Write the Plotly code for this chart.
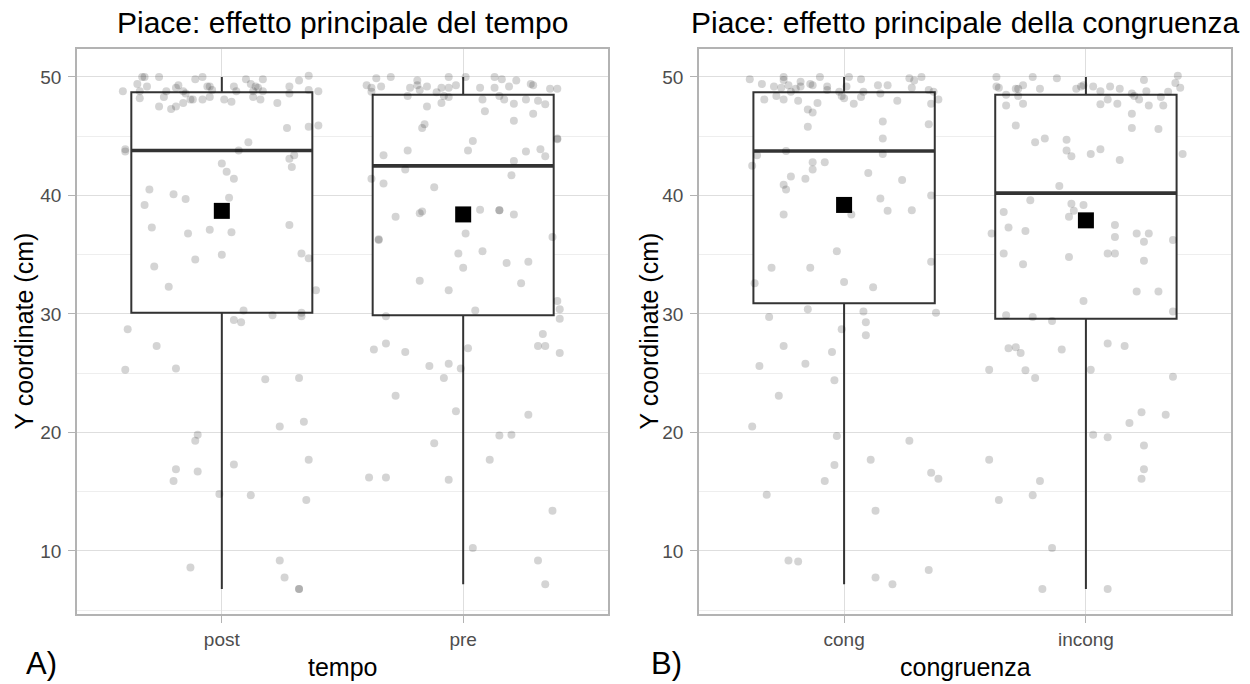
import plotly.graph_objects as go
from plotly.subplots import make_subplots

# ---- Panel A: tempo ----
tempo_levels = ["post", "pre"]
tempo_q1 = [30.1, 29.9]
tempo_median = [43.8, 42.5]
tempo_q3 = [48.7, 48.5]
tempo_min = [6.8, 7.2]
tempo_max = [50.0, 50.0]
tempo_mean = [38.7, 38.4]

post_y = [50.0, 50.0, 50.0, 49.8, 50.0, 49.8, 49.8, 50.1, 49.7, 49.4, 49.2, 49.1, 49.4, 49.2, 49.3, 49.2,
          49.2, 49.2, 49.2, 48.8, 48.8, 48.8, 49.1, 48.8, 48.6, 48.9, 48.8, 48.8, 48.8, 48.6, 48.9, 48.8,
          48.2, 48.3, 48.1, 48.1, 48.1, 48.3, 48.1, 47.9, 48.3, 48.1, 47.8, 47.5, 47.3, 47.5, 47.8, 45.7,
          45.8, 45.9, 44.5, 43.8, 43.7, 43.9, 43.1, 43.4, 42.4, 42.7, 42.0, 41.4, 40.5, 40.1, 39.7, 39.8,
          39.2, 37.3, 36.8, 37.1, 36.9, 37.5, 35.0, 35.1, 34.7, 34.6, 34.0, 32.3, 32.0, 30.3, 29.9, 30.1,
          29.8, 29.5, 29.3, 28.7, 27.3, 25.3, 25.4, 24.5, 24.6, 20.5, 20.9, 19.8, 19.3, 17.3, 17.7, 16.9,
          16.7, 15.9, 14.8, 14.7, 14.3, 8.6, 9.2, 7.75, 6.8, 6.8]
post_jit = [-0.33, -0.32, -0.26, -0.11, -0.08, 0.10, 0.17, 0.36, 0.32, 0.12, 0.14, 0.15, -0.35, -0.31, -0.18, -0.06,
            -0.05, 0.05, 0.28, -0.41, -0.34, -0.23, -0.19, -0.16, -0.15, -0.04, 0.06, 0.13, 0.17, 0.28, 0.36, 0.40,
            -0.34, -0.24, -0.13, -0.12, -0.08, -0.05, 0.01, 0.04, 0.13, 0.16, 0.23, -0.26, -0.21, -0.19, -0.16, 0.27,
            0.36, 0.40, 0.11, 0.07, -0.40, -0.40, 0.28, 0.30, 0.29, 0.00, 0.02, 0.05, -0.30, -0.20, -0.15, 0.03,
            -0.32, -0.29, -0.14, -0.05, 0.04, 0.28, 0.00, 0.33, 0.36, -0.11, -0.28, -0.22, 0.39, 0.09, 0.21, 0.33,
            0.33, 0.05, 0.08, -0.39, -0.27, -0.40, -0.19, 0.18, 0.32, 0.24, 0.34, -0.10, -0.11, 0.05, 0.36, -0.19,
            -0.10, -0.20, -0.01, 0.12, 0.35, -0.13, 0.24, 0.26, 0.32, 0.32]

pre_y = [49.9, 50.0, 49.7, 50.0, 50.0, 50.0, 49.8, 49.7, 49.4, 49.3, 49.3, 49.1, 49.2, 49.1, 49.3, 49.2,
         49.1, 49.1, 49.3, 49.1, 49.1, 49.2, 49.0, 49.0, 48.75, 48.4, 48.9, 48.7, 48.4, 48.3, 48.4, 48.1,
         48.1, 47.75, 48.1, 48.0, 47.7, 47.8, 47.5, 47.1, 46.9, 46.3, 46.0, 45.7, 44.6, 43.8, 44.8, 44.75,
         43.4, 43.8, 43.7, 43.9, 43.3, 42.9, 42.2, 41.4, 41.0, 40.7, 41.7, 38.2, 38.5, 38.65, 38.8, 38.75,
         38.75, 38.4, 36.3, 36.25, 36.8, 36.5, 35.1, 35.3, 33.9, 34.3, 34.4, 32.8, 32.0, 32.6, 30.3, 31.1,
         30.4, 29.6, 29.8, 27.0, 27.5, 26.8, 27.1, 28.3, 27.3, 27.3, 26.7, 25.6, 25.8, 24.6, 25.4, 23.1,
         21.8, 21.5, 19.1, 19.75, 19.8, 17.7, 16.2, 16.2, 16.0, 13.4, 10.25, 9.2, 7.2]
pre_jit = [-0.36, -0.30, -0.19, -0.06, 0.01, 0.13, 0.16, 0.22, 0.28, 0.29, -0.40, -0.38, -0.34, -0.22, -0.19, -0.15,
           -0.09, -0.06, -0.03, 0.07, 0.13, 0.19, 0.36, 0.39, -0.38, -0.23, -0.18, -0.11, -0.08, -0.06, 0.15, 0.08,
           0.17, 0.21, 0.26, 0.31, 0.34, -0.09, -0.15, 0.09, 0.29, 0.21, -0.16, -0.17, 0.04, 0.02, 0.39, 0.39,
           -0.33, -0.23, 0.26, 0.32, 0.34, 0.21, -0.24, -0.38, -0.33, -0.12, 0.20, -0.28, -0.18, -0.17, 0.07, 0.15,
           0.15, 0.21, -0.35, -0.35, 0.01, 0.37, -0.02, 0.08, 0.00, 0.18, 0.27, -0.18, -0.06, 0.24, 0.05, 0.39,
           0.40, 0.40, -0.32, -0.37, -0.32, -0.24, 0.02, 0.33, 0.31, 0.34, 0.40, -0.14, -0.06, -0.08, -0.01, -0.28,
           -0.03, 0.27, -0.12, 0.15, 0.20, 0.11, -0.39, -0.32, -0.06, 0.37, 0.04, 0.31, 0.34]

# ---- Panel B: congruenza ----
congr_levels = ["cong", "incong"]
congr_q1 = [30.9, 29.6]
congr_median = [43.75, 40.2]
congr_q3 = [48.7, 48.5]
congr_min = [7.2, 6.8]
congr_max = [50.0, 50.0]
congr_mean = [39.2, 37.9]

cong_y = [49.8, 50.0, 49.75, 49.6, 49.4, 50.0, 50.0, 49.8, 49.3, 49.3, 49.9, 49.7, 50.0, 49.4, 49.2, 49.1,
          49.3, 49.0, 49.2, 49.3, 49.2, 48.75, 48.4, 49.2, 48.75, 48.6, 49.1, 48.9, 48.75, 48.1, 48.4, 48.1,
          48.75, 48.0, 48.9, 48.2, 47.75, 48.3, 48.0, 47.75, 48.1, 47.8, 47.25, 47.0, 45.8, 46.25, 46.0, 44.8,
          43.5, 43.75, 43.4, 42.5, 42.8, 42.2, 42.8, 41.6, 41.4, 40.9, 40.5, 41.9, 41.3, 40.0, 39.75, 38.4,
          38.7, 38.75, 38.4, 35.3, 34.4, 33.9, 33.9, 32.6, 32.7, 32.25, 30.4, 30.2, 29.75, 30.1, 29.3, 28.7,
          28.2, 27.3, 26.8, 25.6, 25.8, 24.4, 23.1, 20.5, 19.7, 19.3, 17.7, 17.25, 15.9, 16.6, 16.1, 14.75,
          13.4, 9.2, 9.1, 7.75, 7.2, 8.4]
cong_jit = [-0.39, -0.25, -0.25, -0.18, -0.14, -0.10, 0.02, 0.07, 0.14, 0.18, 0.27, 0.29, 0.32, -0.34, -0.29, -0.26,
            -0.23, -0.20, -0.18, -0.13, -0.07, -0.02, -0.01, 0.01, 0.08, 0.15, 0.28, 0.35, 0.37, -0.33, -0.28, -0.25,
            -0.22, -0.19, -0.07, 0.00, 0.04, 0.07, 0.22, 0.36, 0.39, -0.11, -0.15, -0.13, -0.15, 0.16, 0.35, 0.16,
            0.16, -0.24, -0.36, -0.38, -0.13, -0.13, -0.08, -0.22, -0.16, -0.25, -0.24, 0.10, 0.24, 0.36, 0.15, 0.03,
            0.18, 0.28, -0.25, -0.03, 0.36, -0.30, -0.14, -0.37, 0.00, 0.12, -0.15, 0.08, -0.31, 0.38, 0.09, -0.01,
            0.09, -0.25, -0.05, -0.35, -0.16, -0.04, -0.27, -0.38, -0.03, 0.27, 0.11, -0.04, -0.08, 0.36, 0.39, -0.32,
            0.13, -0.23, -0.19, 0.13, 0.20, 0.35]

incong_y = [50.0, 50.0, 49.9, 50.1, 49.75, 49.5, 49.1, 49.2, 49.1, 49.0, 49.0, 49.3, 49.0, 49.0, 49.2, 49.3,
            49.2, 48.8, 49.2, 49.0, 48.6, 48.4, 48.1, 48.8, 48.3, 48.75, 48.5, 48.4, 48.1, 47.75, 47.7, 47.6,
            47.6, 47.6, 47.75, 46.9, 45.9, 45.7, 45.6, 44.5, 44.8, 44.7, 43.8, 43.3, 43.5, 43.9, 43.0, 43.5,
            40.8, 39.6, 39.3, 39.2, 38.7, 38.2, 38.6, 37.3, 37.0, 36.8, 37.5, 36.5, 36.8, 36.8, 36.1, 36.25,
            35.1, 34.2, 34.8, 35.1, 35.1, 34.5, 31.9, 31.9, 31.1, 29.9, 29.75, 29.4, 30.2, 27.1, 27.2, 26.7,
            27.0, 27.5, 27.3, 25.3, 25.25, 24.6, 25.3, 24.7, 21.7, 20.8, 21.5, 19.8, 19.6, 18.9, 17.7, 15.9,
            16.9, 16.1, 14.7, 14.3, 10.25, 6.8, 6.8]
incong_jit = [-0.37, -0.22, -0.12, 0.38, 0.24, 0.37, 0.39, -0.37, -0.36, -0.29, -0.28, -0.26, -0.19, -0.04, -0.02, -0.01,
              0.03, 0.06, 0.10, 0.14, 0.19, 0.20, 0.22, 0.25, 0.31, 0.34, -0.33, -0.28, 0.09, 0.13, 0.06, 0.26,
              0.32, -0.33, -0.26, 0.19, -0.29, 0.19, 0.30, -0.21, -0.17, -0.08, -0.08, -0.06, 0.02, 0.06, 0.14, 0.40,
              -0.11, -0.23, -0.06, -0.01, -0.05, -0.07, -0.34, -0.32, -0.25, -0.39, 0.12, 0.12, 0.21, 0.26, 0.24, 0.36,
              -0.34, -0.26, -0.07, 0.09, 0.12, 0.24, 0.21, 0.30, -0.01, -0.33, -0.22, -0.14, 0.36, -0.32, -0.29, -0.27,
              -0.10, 0.09, 0.16, -0.40, -0.25, -0.21, 0.02, 0.36, 0.23, 0.18, 0.33, 0.03, 0.09, 0.24, -0.40, -0.19,
              0.24, 0.23, -0.22, -0.36, -0.14, -0.18, 0.09]

titles = ["Piace: effetto principale del tempo", "Piace: effetto principale della congruenza"]
x_titles = ["tempo", "congruenza"]
y_title = "Y coordinate (cm)"
panel_tags = ["A)", "B)"]

FONT = "Liberation Sans, Arial, sans-serif"
W, H = 1250, 684
BOX_W = 0.75
LINE_C = "#333333"
positions = [1, 2]

panels = [
    dict(levels=tempo_levels, q1=tempo_q1, med=tempo_median, q3=tempo_q3, lo=tempo_min, hi=tempo_max,
         mean=tempo_mean, pts=[(post_jit, post_y), (pre_jit, pre_y)]),
    dict(levels=congr_levels, q1=congr_q1, med=congr_median, q3=congr_q3, lo=congr_min, hi=congr_max,
         mean=congr_mean, pts=[(cong_jit, cong_y), (incong_jit, incong_y)]),
]

fig = make_subplots(rows=1, cols=2)

for col, p in enumerate(panels, start=1):
    # box with whiskers to the extremes
    fig.add_trace(go.Box(
        x=positions, q1=p["q1"], median=p["med"], q3=p["q3"],
        lowerfence=p["lo"], upperfence=p["hi"],
        width=BOX_W, whiskerwidth=0, boxpoints=False,
        fillcolor="white", line=dict(color=LINE_C, width=2),
        hoverinfo="skip", showlegend=False,
    ), row=1, col=col)

    # heavier median bar
    mx, my = [], []
    for pos, m in zip(positions, p["med"]):
        mx += [pos - BOX_W / 2, pos + BOX_W / 2, None]
        my += [m, m, None]
    fig.add_trace(go.Scatter(x=mx, y=my, mode="lines",
                             line=dict(color=LINE_C, width=3.6),
                             hoverinfo="skip", showlegend=False), row=1, col=col)

    # jittered observations
    for pos, (jit, vals) in zip(positions, p["pts"]):
        fig.add_trace(go.Scatter(
            x=[pos + j for j in jit], y=vals, mode="markers",
            marker=dict(size=8, color="rgba(0,0,0,0.17)", line=dict(width=0)),
            showlegend=False, hoverinfo="y"), row=1, col=col)

    # group means
    fig.add_trace(go.Scatter(
        x=positions, y=p["mean"], mode="markers",
        marker=dict(symbol="square", size=16, color="black"),
        showlegend=False), row=1, col=col)

axis_common = dict(
    showline=True, mirror=True, linecolor="#b3b3b3", linewidth=1.5,
    showgrid=True, gridcolor="#dedede", gridwidth=1, zeroline=False,
    ticks="outside", ticklen=7, tickcolor="#b3b3b3", tickwidth=1,
    tickfont=dict(family=FONT, size=19, color="#4d4d4d"),
)

domains_x = [[77 / W, 608 / W], [699 / W, 1231 / W]]
y_dom = [1 - 614 / H, 1 - 49 / H]

for i in range(2):
    fig.update_xaxes(
        axis_common, domain=domains_x[i], range=[0.4, 2.6],
        tickmode="array", tickvals=positions, ticktext=panels[i]["levels"],
        row=1, col=i + 1)
    fig.update_yaxes(
        axis_common, domain=y_dom, range=[4.68, 52.36],
        tickmode="linear", tick0=0, dtick=10, ticklabelstandoff=3,
        minor=dict(dtick=5, tick0=0, showgrid=True, gridcolor="#eeeeee", gridwidth=0.6, ticks=""),
        row=1, col=i + 1)

annotations = []
ymid = (y_dom[0] + y_dom[1]) / 2
for i in range(2):
    cx = (domains_x[i][0] + domains_x[i][1]) / 2
    annotations.append(dict(text=titles[i], x=cx, y=1 - 22 / H, xref="paper", yref="paper",
                            xanchor="center", yanchor="middle", showarrow=False,
                            font=dict(family=FONT, size=30, color="black")))
    annotations.append(dict(text=x_titles[i], x=cx, y=1 - 667 / H, xref="paper", yref="paper",
                            xanchor="center", yanchor="middle", showarrow=False,
                            font=dict(family=FONT, size=25, color="black")))
    annotations.append(dict(text=y_title, x=(23 + i * 625) / W, y=ymid, xref="paper", yref="paper",
                            xanchor="center", yanchor="middle", textangle=-90, showarrow=False,
                            font=dict(family=FONT, size=25, color="black")))
    annotations.append(dict(text=panel_tags[i], x=(24 + i * 625) / W, y=1 - 663 / H, xref="paper",
                            yref="paper", xanchor="left", yanchor="middle", showarrow=False,
                            font=dict(family=FONT, size=31, color="black")))

fig.update_layout(
    width=W, height=H,
    margin=dict(l=0, r=0, t=0, b=0),
    paper_bgcolor="white", plot_bgcolor="white",
    showlegend=False,
    annotations=annotations,
)

fig.write_html("out.html")
